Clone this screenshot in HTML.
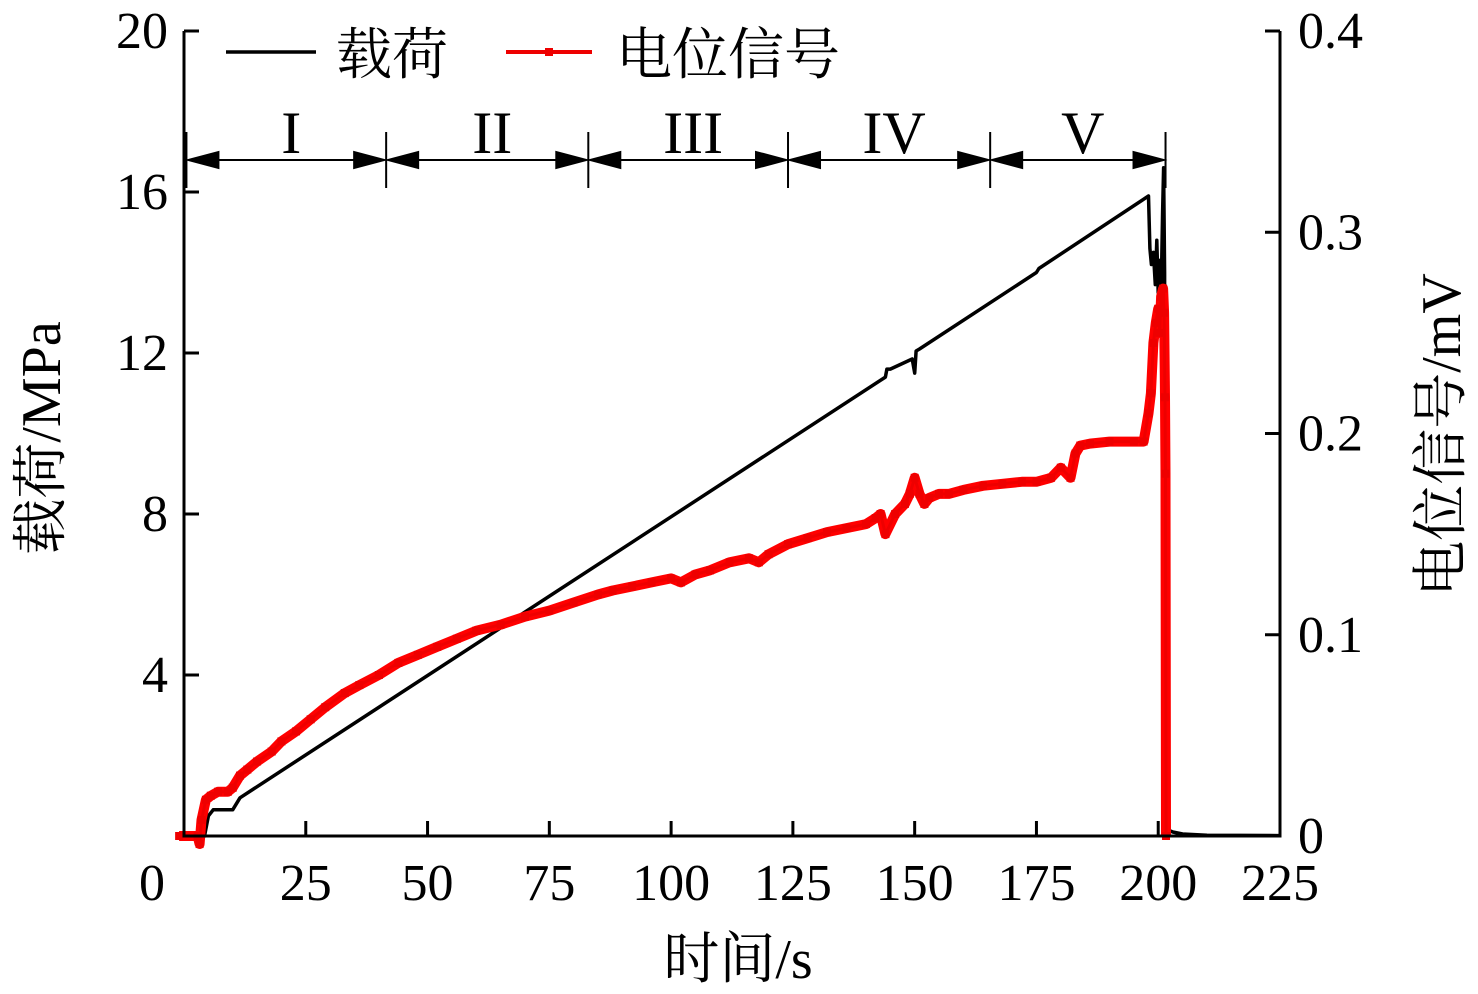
<!DOCTYPE html>
<html><head><meta charset="utf-8"><style>
html,body{margin:0;padding:0;background:#fff;}
svg text{font-family:"Liberation Serif","Noto Serif CJK SC","Noto Sans CJK SC",serif;fill:#000;}
</style></head><body>
<svg id="chart" width="1478" height="989" viewBox="0 0 1478 989" xmlns="http://www.w3.org/2000/svg"></svg>
<script>
const xTicks=[0,25,50,75,100,125,150,175,200,225];
const xTickLabels=["0","25","50","75","100","125","150","175","200","225"];
const yLeftTicks=[4,8,12,16,20];
const yLeftLabels=["4","8","12","16","20"];
const yRightTicks=[0,0.1,0.2,0.3,0.4];
const yRightLabels=["0","0.1","0.2","0.3","0.4"];
const loadTime=[-0.5,4.2,5,6,10,11.5,144,144.3,145,149.5,150,150.3,151,175,175.5,198,198.3,198.6,199,199.4,199.7,200,200.3,200.6,200.9,201.1,201.3,201.5,201.7,202,203,205,210,225];
const loadValue=[0,0,0.5,0.65,0.65,0.95,11.4,11.6,11.6,11.85,11.5,12.05,12.1,14.0,14.1,15.9,14.6,14.2,14.5,13.7,14.8,13.5,14.3,13.4,15.5,16.6,14.0,0.2,0.15,0.15,0.1,0.05,0.02,0.01];
const potTime=[-1,2.8,3.2,3.6,4.5,5.5,7,9,10,11.5,13,15,18,20,23,26,29,33,36,40,44,48,52,56,60,65,70,75,80,85,88,92,96,100,102,105,108,112,116,118,120,124,128,132,136,140,142,143,144,146,148,149,150,151,152,153,155,157,160,164,168,172,175,178,180,182,183,184,186,190,195,197,198,198.5,199,199.5,200,200.3,200.6,201,201.2,201.4,201.5,201.6];
const potValue=[0,0,-0.004,0.008,0.018,0.02,0.022,0.022,0.024,0.03,0.033,0.037,0.042,0.047,0.052,0.058,0.064,0.071,0.075,0.08,0.086,0.09,0.094,0.098,0.102,0.105,0.109,0.112,0.116,0.12,0.122,0.124,0.126,0.128,0.126,0.13,0.132,0.136,0.138,0.136,0.14,0.145,0.148,0.151,0.153,0.155,0.158,0.16,0.15,0.16,0.165,0.17,0.178,0.17,0.165,0.168,0.17,0.17,0.172,0.174,0.175,0.176,0.176,0.178,0.183,0.178,0.19,0.194,0.195,0.196,0.196,0.196,0.21,0.22,0.245,0.255,0.262,0.25,0.268,0.272,0.26,0.218,0.18,0];
const stageBounds=[0.5,41.5,83,124,165.5,201.5];
const stageNames=["I","II","III","IV","V"];

const NS="http://www.w3.org/2000/svg";
const svg=document.getElementById('chart');
const X0=184,X1=1280,Y0=836,Y1=31;
function xs(t){return X0+(t/225)*(X1-X0);}
function yl(v){return Y0-(v/20)*(Y0-Y1);}
function yr(v){return Y0-(v/0.4)*(Y0-Y1);}
function mk(tag,attrs){const e=document.createElementNS(NS,tag);for(const k in attrs)e.setAttribute(k,attrs[k]);svg.appendChild(e);return e;}

let d='';loadTime.forEach((t,i)=>{d+=(i?'L':'M')+xs(t).toFixed(1)+','+yl(loadValue[i]).toFixed(1);});
const lp=mk('path',{d:d,fill:'none',stroke:'#000','stroke-width':3.5,'stroke-linejoin':'round'});



let d2='';potTime.forEach((t,i)=>{d2+=(i?'L':'M')+xs(t).toFixed(1)+','+yr(potValue[i]).toFixed(1);});
const pp=mk('path',{d:d2,fill:'none',stroke:'#f00','stroke-width':10,'stroke-linejoin':'round'});


const pl=mk('path',{d:d2,fill:'none',stroke:'#e00','stroke-width':3});


potTime.forEach((t,i)=>{
  const r=mk('rect',{x:xs(t)-4,y:yr(potValue[i])-4,width:8,height:8,fill:'#e00'});
  
  
});

const ax=mk('path',{d:`M${X0},${Y1}V${Y0}H${X1}V${Y1}`,fill:'none',stroke:'#000','stroke-width':3});


xTicks.forEach((t,i)=>{
  if(t>0&&t<225){const tk=mk('line',{x1:xs(t),x2:xs(t),y1:Y0,y2:Y0-15,stroke:'#000','stroke-width':3});
  
  }
  const lx=t===0?152:xs(t);
  const tx=mk('text',{x:lx,y:900,'font-size':52,'text-anchor':'middle'});tx.textContent=xTickLabels[i];
  
  
});
yLeftTicks.forEach((v,i)=>{
  const tk=mk('line',{x1:X0,x2:X0+15,y1:yl(v),y2:yl(v),stroke:'#000','stroke-width':3});
  
  
  const tx=mk('text',{x:168,y:yl(v)+17,'font-size':52,'text-anchor':'end'});tx.textContent=yLeftLabels[i];
  
  
});
yRightTicks.forEach((v,i)=>{
  const tk=mk('line',{x1:X1-15,x2:X1,y1:yr(v),y2:yr(v),stroke:'#000','stroke-width':3});
  
  
  const tx=mk('text',{x:1298,y:yr(v)+17,'font-size':52}); tx.textContent=yRightLabels[i];
  
  
});

const SY=160;
stageBounds.forEach((t,i)=>{
  const l=mk('line',{x1:xs(t),x2:xs(t),y1:SY-28,y2:SY+28,stroke:'#000','stroke-width':2});
  
  
});
for(let i=0;i<stageNames.length;i++){
  const a=xs(stageBounds[i]),b=xs(stageBounds[i+1]);
  const g=mk('path',{d:`M${a+2},${SY}H${b-2}M${a+2},${SY}l30,-8v16zM${b-2},${SY}l-30,-8v16z`,stroke:'#000','stroke-width':2,fill:'#000'});
  
  
  const tx=mk('text',{x:(a+b)/2+5,y:153,'font-size':60,'text-anchor':'middle'});tx.textContent=stageNames[i];
  
  
}

const l1=mk('line',{x1:226,x2:316,y1:52,y2:52,stroke:'#000','stroke-width':3.5});


const t1=mk('text',{x:336,y:74,'font-size':56});t1.textContent='载荷';


const l2=mk('line',{x1:506,x2:592,y1:52,y2:52,stroke:'#e00','stroke-width':4});


const r2=mk('rect',{x:545,y:48,width:8,height:8,fill:'#e00'});


const t2=mk('text',{x:616,y:74,'font-size':56});t2.textContent='电位信号';



const xt=mk('text',{x:738,y:978,'font-size':56,'text-anchor':'middle'});xt.textContent='时间/s';


const yt=mk('text',{x:0,y:0,'font-size':56,'text-anchor':'middle',transform:'translate(60,438) rotate(-90)'});yt.textContent='载荷/MPa';


const yt2=mk('text',{x:0,y:0,'font-size':56,'text-anchor':'middle',transform:'translate(1460,435) rotate(-90)'});yt2.textContent='电位信号/mV';


</script>
</body></html>
